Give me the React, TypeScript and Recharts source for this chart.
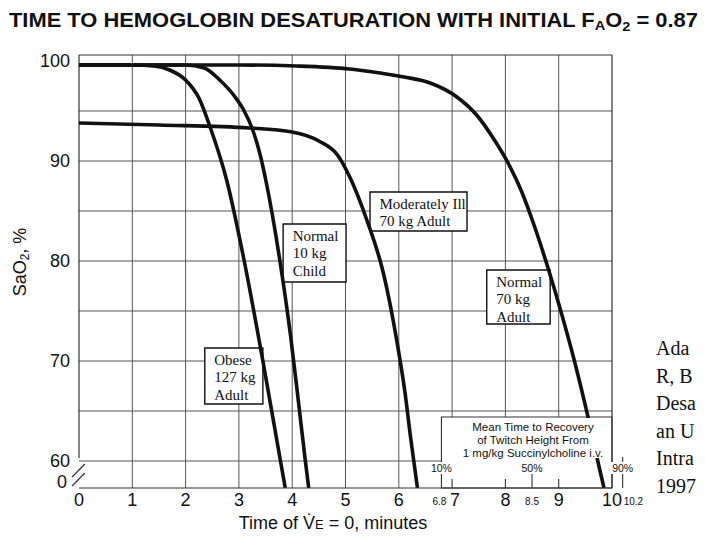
import React from 'react'
import {
  LineChart,
  Line,
  XAxis,
  YAxis,
  CartesianGrid,
  ReferenceArea,
  ReferenceLine,
  ReferenceDot,
} from 'recharts'

// curves: minutes vs SaO2 (%)
const obeseTime = [0, 1.0, 1.4, 1.7, 2.0, 2.25, 2.46, 2.77, 3.1, 3.45, 3.78, 3.87]
const obeseSat = [99.6, 99.6, 99.5, 99.1, 98.1, 96.3, 93.4, 88.1, 80.0, 70.0, 60.0, 57.3]

const childTime = [0, 2.0, 2.35, 2.64, 2.9, 3.1, 3.26, 3.4, 3.5, 3.77, 3.97, 4.12, 4.24, 4.31]
const childSat = [99.6, 99.6, 99.3, 98.1, 96.6, 95.0, 93.1, 90.6, 88.2, 80.0, 72.5, 65.8, 60.3, 57.3]

const illTime = [0, 1.5, 3.2, 4.0, 4.5, 4.85, 5.08, 5.4, 5.71, 5.96, 6.12, 6.22, 6.35]
const illSat = [93.8, 93.6, 93.3, 92.9, 92.0, 90.6, 88.4, 84.1, 78.8, 72.1, 66.7, 62.4, 57.3]

const adultTime = [0, 3.0, 4.08, 5.08, 5.65, 6.1, 6.59, 7.09, 7.46, 7.77, 8.05, 8.3, 8.55, 8.8, 9.05, 9.3, 9.55, 9.75, 9.85]
const adultSat = [99.6, 99.6, 99.5, 99.2, 98.8, 98.4, 97.8, 96.4, 94.6, 92.3, 89.8, 87.0, 83.4, 79.3, 74.8, 69.9, 64.4, 59.6, 57.3]

const xTicks = [0, 1, 2, 3, 4, 5, 6, 7, 8, 9, 10, 6.8, 8.5, 10.2]
const yTicks = [57.3, 60, 70, 80, 90, 100]
const yGrid = [60, 65, 70, 75, 80, 85, 90, 95]
const xGrid = [1, 2, 3, 4, 5, 6, 7, 8, 9]

const obeseLabel = ['Obese', '127 kg', 'Adult']
const childLabel = ['Normal', '10 kg', 'Child']
const illLabel = ['Moderately Ill', '70 kg Adult']
const adultLabel = ['Normal', '70 kg', 'Adult']
const insetLines = ['Mean Time to Recovery', 'of Twitch Height From', '1 mg/kg Succinylcholine i.v.']
const recoveryTimes = [6.8, 8.5, 10.2]
const recoveryNames = ['10%', '50%', '90%']
const minorTicks = [7, 8, 9]
const citation = ['Ada', 'R, B', 'Desa', 'an U', 'Intra', '1997']

const toSeries = (t: number[], s: number[]) => t.map((v, i) => ({ t: v, sat: s[i] }))

const SANS = "'Liberation Sans', Arial, sans-serif"
const SERIF = "'Liberation Serif', 'Times New Roman', serif"
const INK = '#111'
const GRID = '#555'

function BoxLabel({ viewBox, lines }: any) {
  const { x, y } = viewBox
  return (
    <g>
      {lines.map((l: string, i: number) => (
        <text
          key={i}
          x={x + 9.5}
          y={y + 11.5 + i * 17.7}
          dominantBaseline="central"
          fontFamily={SERIF}
          fontSize={15}
          fill={INK}
        >
          {l}
        </text>
      ))}
    </g>
  )
}

function InsetLabel({ viewBox }: any) {
  const { x, y, width } = viewBox
  const cx = x + width / 2 + 6
  return (
    <g>
      {insetLines.map((l, i) => (
        <text
          key={i}
          x={cx}
          y={y + 9 + i * 13}
          textAnchor="middle"
          dominantBaseline="central"
          fontFamily={SANS}
          fontSize={11.5}
          fill={INK}
        >
          {l}
        </text>
      ))}
    </g>
  )
}

function PctLabel({ cx, cy, text }: any) {
  return (
    <g>
      <rect x={cx - 12} y={cy - 6} width={24} height={12} fill="#fff" />
      <text
        x={cx}
        y={cy}
        textAnchor="middle"
        dominantBaseline="central"
        fontFamily={SANS}
        fontSize={10.5}
        fill={INK}
      >
        {text}
      </text>
    </g>
  )
}

function XTick({ x, y, payload }: any) {
  const v = payload.value as number
  if (Number.isInteger(v)) {
    return (
      <text
        x={v === 7 ? x + 3 : x}
        y={y + 12}
        textAnchor="middle"
        dominantBaseline="central"
        fontFamily={SANS}
        fontSize={18}
        fill={INK}
      >
        {v}
      </text>
    )
  }
  const anchor = v > 10 ? 'start' : v < 7 ? 'end' : 'middle'
  const dx = v > 10 ? 1 : v < 7 ? 5 : 0
  return (
    <text
      x={x + dx}
      y={y + 13}
      textAnchor={anchor}
      dominantBaseline="central"
      fontFamily={SANS}
      fontSize={10}
      fill={INK}
    >
      {v}
    </text>
  )
}

function YTick({ x, y, payload }: any) {
  const v = payload.value as number
  const isZero = v < 60
  return (
    <text
      x={isZero ? x - 3 : x}
      y={isZero ? y - 6 : y}
      textAnchor="end"
      dominantBaseline="central"
      fontFamily={SANS}
      fontSize={18}
      fill={INK}
    >
      {isZero ? '0' : v}
    </text>
  )
}

export default function App() {
  return (
    <div
      style={{
        position: 'absolute',
        left: 0,
        top: 0,
        width: 706,
        height: 542,
        overflow: 'hidden',
        background: '#fff',
      }}
    >
      <LineChart width={706} height={542} margin={{ top: 55, right: 94, left: 0, bottom: 0 }}>
        <CartesianGrid
          horizontalValues={yGrid}
          verticalValues={xGrid}
          stroke={GRID}
          strokeWidth={1}
        />
        <XAxis
          dataKey="t"
          type="number"
          domain={[0, 10]}
          allowDataOverflow
          ticks={xTicks}
          interval={0}
          height={54}
          tickSize={0}
          tickMargin={0}
          tick={<XTick />}
          axisLine={{ stroke: '#333', strokeWidth: 1.2 }}
        />
        <YAxis
          type="number"
          domain={[57.3, 100.6]}
          allowDataOverflow
          ticks={yTicks}
          interval={0}
          width={79}
          tickSize={0}
          tickMargin={9}
          tick={<YTick />}
          axisLine={false}
        />

        {/* frame with the broken bottom-left corner */}
        <ReferenceLine y={100.6} stroke="#333" strokeWidth={1.2} />
        <ReferenceLine x={10} stroke="#333" strokeWidth={1.2} />
        <ReferenceLine segment={[{ x: 0, y: 60.3 }, { x: 0, y: 100.6 }]} stroke="#333" strokeWidth={1.2} />
        <ReferenceLine
          segment={[{ x: -0.13, y: 58.4 }, { x: 0.11, y: 59.7 }]}
          stroke="#333"
          strokeWidth={1.2}
          ifOverflow="visible"
        />
        <ReferenceLine
          segment={[{ x: -0.13, y: 57.5 }, { x: 0.11, y: 58.8 }]}
          stroke="#333"
          strokeWidth={1.2}
          ifOverflow="visible"
        />

        {/* curve labels */}
        <ReferenceArea x1={2.36} x2={3.45} y1={65.7} y2={71.3} fill="#fff" fillOpacity={1} stroke={INK} strokeWidth={1.4} label={<BoxLabel lines={obeseLabel} />} />
        <ReferenceArea x1={3.83} x2={5.01} y1={77.9} y2={83.7} fill="#fff" fillOpacity={1} stroke={INK} strokeWidth={1.4} label={<BoxLabel lines={childLabel} />} />
        <ReferenceArea x1={5.46} x2={7.28} y1={83.0} y2={86.9} fill="#fff" fillOpacity={1} stroke={INK} strokeWidth={1.4} label={<BoxLabel lines={illLabel} />} />
        <ReferenceArea x1={7.65} x2={8.84} y1={73.7} y2={79.1} fill="#fff" fillOpacity={1} stroke={INK} strokeWidth={1.4} label={<BoxLabel lines={adultLabel} />} />

        {/* recovery inset box */}
        <ReferenceArea x1={6.8} x2={10} y1={57.3} y2={64.4} fill="#fff" fillOpacity={1} stroke="#333" strokeWidth={1.1} />

        <Line data={toSeries(obeseTime, obeseSat)} dataKey="sat" type="monotone" stroke={INK} strokeWidth={3.6} dot={false} isAnimationActive={false} />
        <Line data={toSeries(childTime, childSat)} dataKey="sat" type="monotone" stroke={INK} strokeWidth={3.6} dot={false} isAnimationActive={false} />
        <Line data={toSeries(illTime, illSat)} dataKey="sat" type="monotone" stroke={INK} strokeWidth={3.6} dot={false} isAnimationActive={false} />
        <Line data={toSeries(adultTime, adultSat)} dataKey="sat" type="monotone" stroke={INK} strokeWidth={3.6} dot={false} isAnimationActive={false} />

        {/* inset text sits over the curve */}
        <ReferenceArea
          x1={6.83}
          x2={9.98}
          y1={60.3}
          y2={64.3}
          fill="#fff"
          fillOpacity={1}
          stroke="none"
          zIndex={1500}
          label={<InsetLabel />}
        />
        {minorTicks.map((t) => (
          <ReferenceLine key={t} segment={[{ x: t, y: 57.3 }, { x: t, y: 58.2 }]} stroke="#333" strokeWidth={1.1} />
        ))}
        <ReferenceLine segment={[{ x: 8.5, y: 57.3 }, { x: 8.5, y: 58.8 }]} stroke="#333" strokeWidth={1.1} />
        <ReferenceLine
          segment={[{ x: 10.2, y: 57.3 }, { x: 10.2, y: 60.4 }]}
          stroke="#333"
          strokeWidth={1.1}
          ifOverflow="visible"
        />
        {recoveryTimes.map((t, i) => (
          <ReferenceDot
            key={t}
            x={t}
            y={59.3}
            r={0}
            ifOverflow="visible"
            zIndex={1600}
            shape={(p: any) => <PctLabel cx={p.cx} cy={p.cy} text={recoveryNames[i]} />}
          />
        ))}
      </LineChart>

      <svg
        width={706}
        height={542}
        style={{ position: 'absolute', left: 0, top: 0, pointerEvents: 'none' }}
      >
        <text
          x={9}
          y={27}
          textLength={689}
          lengthAdjust="spacingAndGlyphs"
          fontFamily="'Liberation Sans Narrow', 'Liberation Sans', Arial, sans-serif"
          fontWeight="bold"
          fontSize={19.5}
          fill={INK}
        >
          TIME TO HEMOGLOBIN DESATURATION WITH INITIAL F
          <tspan fontSize={13} dy={3}>A</tspan>
          <tspan dy={-3}>O</tspan>
          <tspan fontSize={13} dy={4}>2</tspan>
          <tspan dy={-4}> = 0.87</tspan>
        </text>
        <text
          x={20}
          y={262}
          transform="rotate(-90 20 262)"
          textAnchor="middle"
          dominantBaseline="central"
          fontFamily={SANS}
          fontSize={18}
          fill={INK}
        >
          SaO<tspan fontSize={12} dy={5}>2</tspan>
          <tspan dy={-5}>, %</tspan>
        </text>
        <text x={333} y={529} textAnchor="middle" fontFamily={SANS} fontSize={18} fill={INK}>
          Time of V{'\u0307'}<tspan fontSize={13}>E</tspan> = 0, minutes
        </text>
      </svg>

      <div
        style={{
          position: 'absolute',
          left: 656,
          top: 335,
          width: 44,
          overflow: 'hidden',
          whiteSpace: 'nowrap',
          fontFamily: SERIF,
          fontSize: 20,
          lineHeight: '27.6px',
          color: INK,
        }}
      >
        {citation.map((c) => (
          <div key={c}>{c}</div>
        ))}
      </div>
    </div>
  )
}
